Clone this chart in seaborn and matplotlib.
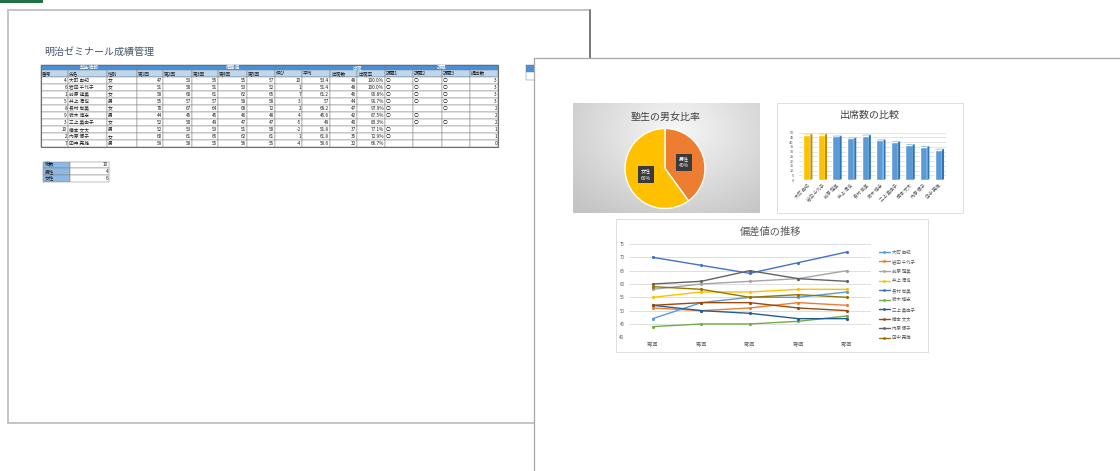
import numpy as np
import pandas as pd
import matplotlib
matplotlib.use("Agg")
import matplotlib.pyplot as plt
from matplotlib.patches import Rectangle, Polygon
from matplotlib.lines import Line2D
import seaborn as sns

sns.set_theme(style="white")
plt.rcParams['font.family'] = ['Noto Sans CJK JP', 'DejaVu Sans']

W, H = 1120, 471

# ---- data ---------------------------------------------------------------
student_ids = [4, 6, 1, 5, 8, 9, 3, 10, 2, 7]
names = ["大町 由紀", "岩田 千代子", "前原 龍美", "井上 清也", "長村 尚美",
         "鈴木 博志", "三上 美由子", "横本 文太", "内原 優子", "田中 亮雄"]
genders = ["女", "女", "女", "男", "女", "男", "女", "男", "女", "男"]
rounds = ["第1回", "第2回", "第3回", "第4回", "第5回"]
round1 = [47, 51, 58, 55, 70, 44, 52, 52, 60, 59]
round2 = [53, 50, 60, 57, 67, 45, 50, 53, 61, 58]
round3 = [55, 51, 61, 57, 64, 45, 49, 53, 65, 55]
round4 = [55, 53, 62, 58, 68, 46, 47, 51, 62, 56]
round5 = [57, 52, 65, 58, 72, 48, 47, 50, 61, 55]
attendance = [48, 48, 46, 44, 47, 42, 40, 37, 35, 32]
total_sessions = 48
task1 = [1, 1, 1, 1, 1, 1, 0, 1, 1, 0]
task2 = [1, 1, 1, 1, 0, 1, 1, 0, 0, 0]
task3 = [1, 1, 1, 1, 1, 0, 1, 0, 0, 0]
gender_labels = ["男性", "女性"]

table_headers = ["番号", "氏名", "性別"] + rounds + ["伸び", "平均", "出席数", "出席率",
                                                 "課題1", "課題2", "課題3", "提出数"]
group_headers = [("塾生情報", 0, 3), ("偏差値", 3, 10), ("出席", 10, 12), ("課題", 12, 16)]

line_colors = ["#5B9BD5", "#ED7D31", "#A5A5A5", "#FFC000", "#4472C4",
               "#70AD47", "#255E91", "#9E480E", "#636363", "#997300"]

scores = np.array([round1, round2, round3, round4, round5]).T
gender_counts = [genders.count("男"), genders.count("女")]

# ---- helpers ------------------------------------------------------------
def frect(x0, y0, x1, y1):
    return [x0 / W, 1 - y1 / H, (x1 - x0) / W, (y1 - y0) / H]


def ftext(x, y, s, **kw):
    fig.text(x / W, 1 - y / H, s, **kw)


def box(ax, x0, y0, x1, y1, fc="white", ec="none", lw=0.5, z=1):
    ax.add_patch(Rectangle((x0, y0), x1 - x0, y1 - y0, facecolor=fc,
                           edgecolor=ec, linewidth=lw, zorder=z))


fig = plt.figure(figsize=(W / 100, H / 100), dpi=100)
bg = fig.add_axes([0, 0, 1, 1])
bg.set_xlim(0, W)
bg.set_ylim(H, 0)
bg.axis("off")

# selected-sheet marker
box(bg, 0, 0, 43, 2.5, fc="#217346", z=1)

# ---- first page ----------------------------------------------------------
box(bg, 8, 10, 590, 423, fc="white", ec="#C4C4C4", lw=1.4, z=1)
bg.plot([590, 590], [10, 423], color="#6E6E6E", lw=1.2, zorder=1.1)

bg.text(44, 52, "明治ゼミナール成績管理", fontsize=7.2, color="#44546A",
        ha="left", va="center", zorder=3)

cols = [41, 68, 107, 137, 163, 192, 218, 247, 275, 302, 330, 357, 385, 413, 442, 470, 498]
y_top, y_sub, y_data, rh = 64.5, 70.0, 76.5, 7.05
grid_c = "#7F7F7F"
fs = 3.4

for label, c0, c1 in group_headers:
    box(bg, cols[c0], y_top, cols[c1], y_sub, fc="#4A90D9", ec=grid_c, lw=0.35, z=2)
    bg.text((cols[c0] + cols[c1]) / 2, (y_top + y_sub) / 2, label, fontsize=fs,
            color="white", ha="center", va="center", zorder=3)

for j, lab in enumerate(table_headers):
    box(bg, cols[j], y_sub, cols[j + 1], y_data, fc="#BDD7EE", ec=grid_c, lw=0.35, z=2)
    bg.text(cols[j] + 1, (y_sub + y_data) / 2, lab, fontsize=fs, color="#1F1F1F",
            ha="left", va="center", zorder=3)

aligns = ["r", "l", "l"] + ["r"] * 9 + ["l", "l", "l", "r"]
for i in range(len(names)):
    sc = scores[i]
    gain = int(sc[-1] - sc[0])
    avg = round(float(sc.mean()), 1)
    rate = attendance[i] / total_sessions * 100
    tasks = [task1[i], task2[i], task3[i]]
    row = ([str(student_ids[i]), names[i], genders[i]] + [str(v) for v in sc] +
           [str(gain), f"{avg:g}", str(attendance[i]), f"{rate:.1f}%"] +
           ["〇" if t else "" for t in tasks] + [str(sum(tasks))])
    y0 = y_data + i * rh
    for j, s in enumerate(row):
        box(bg, cols[j], y0, cols[j + 1], y0 + rh, fc="white", ec=grid_c, lw=0.35, z=2)
        if aligns[j] == "r":
            bg.text(cols[j + 1] - 1, y0 + rh / 2, s, fontsize=fs, color="#1F1F1F",
                    ha="right", va="center", zorder=3)
        else:
            bg.text(cols[j] + 1, y0 + rh / 2, s, fontsize=fs, color="#1F1F1F",
                    ha="left", va="center", zorder=3)
box(bg, cols[0], y_top, cols[-1], y_data + len(names) * rh, fc="none",
    ec="#6E6E6E", lw=0.8, z=2.5)

# summary of students
summary_labels = ["総数", "男性", "女性"]
summary_values = [len(genders), gender_counts[0], gender_counts[1]]
sy, srh = 161.5, 6.7
for i, (lab, v) in enumerate(zip(summary_labels, summary_values)):
    y0 = sy + i * srh
    box(bg, 42.5, y0, 70, y0 + srh, fc="#8DB8E4", ec=grid_c, lw=0.35, z=2)
    box(bg, 70, y0, 109, y0 + srh, fc="white", ec=grid_c, lw=0.35, z=2)
    bg.text(45, y0 + srh / 2, lab, fontsize=fs, color="#1F1F1F", ha="left", va="center", zorder=3)
    bg.text(108, y0 + srh / 2, str(v), fontsize=fs, color="#1F1F1F", ha="right", va="center", zorder=3)

# edge of the neighbouring table
box(bg, 526, 65, 545, 71.5, fc="#4A90D9", ec=grid_c, lw=0.35, z=2)
box(bg, 526, 71.5, 545, 80, fc="white", ec=grid_c, lw=0.35, z=2)

# ---- second page ---------------------------------------------------------
box(bg, 534, 58, 1130, 480, fc="white", ec="#A6A6A6", lw=0.9, z=5)
box(bg, 777, 103, 963, 213, fc="white", ec="#D9D9D9", lw=0.6, z=6)
box(bg, 616, 219, 928, 352, fc="white", ec="#D9D9D9", lw=0.6, z=6)

# ---- pie chart: gender ratio ---------------------------------------------
gbox = fig.add_axes(frect(573, 103, 760, 213))
gx, gy = np.meshgrid(np.linspace(0, 1, 240), np.linspace(0, 1, 140))
r = np.sqrt(((gx - 0.55) / 0.75) ** 2 + ((gy - 0.25) / 0.95) ** 2)
shade = 0.97 - 0.2 * np.clip(r, 0, 1)
gbox.imshow(np.dstack([shade] * 3), aspect="auto", extent=(0, 1, 1, 0))
gbox.set_xlim(0, 1)
gbox.set_ylim(1, 0)
gbox.axis("off")
ftext(666, 117, "塾生の男女比率", fontsize=7.2, color="#404040", ha="center", va="center")

pax = fig.add_axes(frect(625, 128.5, 705, 208.5))
wedges, _ = pax.pie(gender_counts, colors=["#ED7D31", "#FFC000"], startangle=90,
                    counterclock=False, radius=1)
pax.set_xlim(-1, 1)
pax.set_ylim(-1, 1)
pax.set_aspect("equal")
pax.axis("off")
total = sum(gender_counts)
for w, lab, c in zip(wedges, gender_labels, gender_counts):
    th = np.deg2rad((w.theta1 + w.theta2) / 2)
    pax.text(0.5 * np.cos(th), 0.5 * np.sin(th), f"{lab}\n{c / total * 100:.0f}%",
             fontsize=3.6, color="white", ha="center", va="center", linespacing=1.5,
             bbox=dict(boxstyle="square,pad=0.55", fc="#3A3A3A", ec="none"))

# ---- bar chart: attendance -----------------------------------------------
ftext(870, 115, "出席数の比較", fontsize=7.2, color="#404040", ha="center", va="center")
bax = fig.add_axes(frect(799.4, 132.7, 945.6, 180))
bdf = pd.DataFrame({"氏名": names, "出席数": attendance})
front = ["#FFC000" if a == total_sessions else "#5B9BD5" for a in attendance]
side = ["#BF9000" if a == total_sessions else "#2E75B6" for a in attendance]
top = ["#FFD966" if a == total_sessions else "#9DC3E6" for a in attendance]
sns.barplot(data=bdf, x="氏名", y="出席数", hue="氏名", palette=front, width=0.5,
            saturation=1, legend=False, ax=bax, zorder=3)
depth_x, depth_y = 0.14, 1.0
for p, sc_, tc_ in zip(bax.patches, side, top):
    x0, x1, h = p.get_x(), p.get_x() + p.get_width(), p.get_height()
    bax.add_patch(Polygon([(x1, 0), (x1 + depth_x, depth_y), (x1 + depth_x, h + depth_y), (x1, h)],
                          closed=True, fc=sc_, ec="none", zorder=3))
    bax.add_patch(Polygon([(x0, h), (x0 + depth_x, h + depth_y), (x1 + depth_x, h + depth_y), (x1, h)],
                          closed=True, fc=tc_, ec="none", zorder=3))
bax.set_xlim(-0.5, 9.5)
bax.set_ylim(0, 50)
bax.set_yticks(range(0, 51, 5))
bax.set_facecolor("none")
bax.grid(axis="y", color="#D9D9D9", lw=0.5)
bax.set_axisbelow(True)
for s in bax.spines.values():
    s.set_visible(False)
bax.set_xlabel("")
bax.set_ylabel("")
bax.tick_params(axis="y", labelsize=2.8, colors="#595959", length=0, pad=4)
bax.tick_params(axis="x", labelsize=3.2, colors="#595959", length=0, pad=2)
plt.setp(bax.get_xticklabels(), rotation=45, ha="right", rotation_mode="anchor")

# ---- line chart: deviation score trend -----------------------------------
ftext(771, 232, "偏差値の推移", fontsize=7.4, color="#595959", ha="center", va="center")
long = pd.DataFrame([(names[i], k, scores[i, k]) for i in range(len(names)) for k in range(len(rounds))],
                    columns=["氏名", "回", "偏差値"])
lax = fig.add_axes(frect(628.5, 244, 871, 337.3))
sns.lineplot(data=long, x="回", y="偏差値", hue="氏名", hue_order=names, palette=line_colors,
             marker="o", markersize=2.3, markeredgewidth=0, linewidth=1.0, legend=False, ax=lax)
lax.set_xlim(-0.5, len(rounds) - 0.5)
lax.set_ylim(40, 75)
lax.set_xticks(range(len(rounds)))
lax.set_xticklabels(rounds)
lax.set_yticks(range(40, 76, 5))
lax.set_facecolor("none")
lax.grid(axis="y", color="#D9D9D9", lw=0.6)
lax.set_axisbelow(True)
for s in lax.spines.values():
    s.set_visible(False)
lax.set_xlabel("")
lax.set_ylabel("")
lax.tick_params(labelsize=3.2, colors="#595959", length=0, pad=3)

handles = [Line2D([0], [0], color=c, lw=1.0, marker="o", markersize=2.0, markeredgewidth=0)
           for c in line_colors]
fig.legend(handles, names, loc="upper left", bbox_to_anchor=(879 / W, 1 - 249.5 / H),
           frameon=False, fontsize=3.2, handlelength=2.4, handletextpad=0.5,
           labelspacing=1.02, borderpad=0, borderaxespad=0, labelcolor="#595959")

fig.savefig("out.png", dpi=100)
